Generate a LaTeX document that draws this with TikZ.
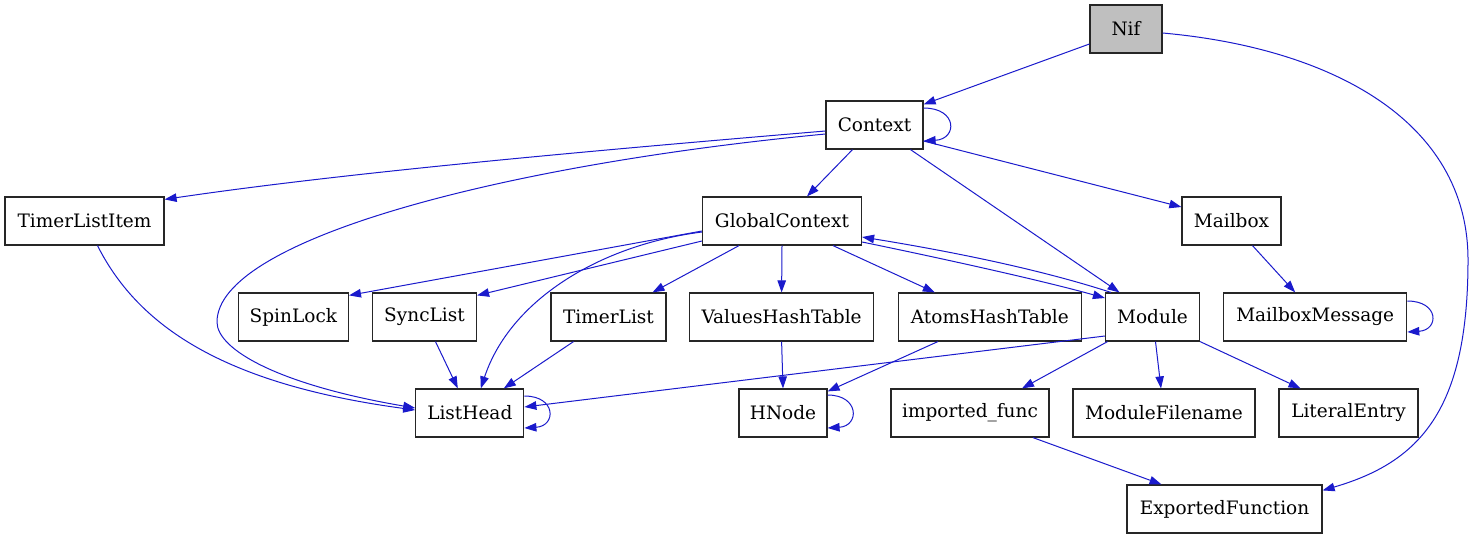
\documentclass[tikz,border=0pt]{standalone}
\usepackage{fontspec}
\setmainfont{DejaVu Serif}
\usetikzlibrary{arrows.meta,calc}
\definecolor{edgeblue}{RGB}{26,26,204}
\definecolor{nifgray}{RGB}{191,191,191}
\begin{document}
\begin{tikzpicture}[x=1pt,y=-1pt,
  box/.style={draw=black!85,line width=1.2pt,fill=white,rectangle,minimum height=48pt,inner sep=0pt,
    font=\fontsize{18.5}{22}\selectfont},
  edge/.style={draw=edgeblue,line width=1pt,-{Triangle[length=12pt,width=8.5pt]}}]
\useasboundingbox (0,0) rectangle (1474,539);
\fill[white] (0,0) rectangle (1474,539);
% nodes
\node[box,fill=nifgray,minimum width=72pt] (Nif) at (1126,29) {Nif};
\node[box,minimum width=97pt] (Context) at (874.5,125) {Context};
\node[box,minimum width=159pt] (TimerListItem) at (84.5,221) {TimerListItem};
\node[box,minimum width=159pt] (GlobalContext) at (782,221) {GlobalContext};
\node[box,minimum width=99pt] (Mailbox) at (1231.5,221) {Mailbox};
\node[box,minimum width=110pt] (SpinLock) at (293.4,317) {SpinLock};
\node[box,minimum width=104pt] (SyncList) at (424.5,317) {SyncList};
\node[box,minimum width=115pt] (TimerList) at (608.5,317) {TimerList};
\node[box,minimum width=184pt] (ValuesHashTable) at (781.6,317) {ValuesHashTable};
\node[box,minimum width=183pt] (AtomsHashTable) at (989.8,317) {AtomsHashTable};
\node[box,minimum width=94pt] (Module) at (1152.5,317) {Module};
\node[box,minimum width=183pt] (MailboxMessage) at (1315.2,317) {MailboxMessage};
\node[box,minimum width=108pt] (ListHead) at (469.8,413) {ListHead};
\node[box,minimum width=88pt] (HNode) at (783,413) {HNode};
\node[box,minimum width=158pt] (imported_func) at (970,413) {imported\_func};
\node[box,minimum width=182pt] (ModuleFilename) at (1164,413) {ModuleFilename};
\node[box,minimum width=139pt] (LiteralEntry) at (1348.5,413) {LiteralEntry};
\node[box,minimum width=195pt] (ExportedFunction) at (1224.5,509) {ExportedFunction};
% edges
\draw[edge] ($(Nif.west)+(0,15)$) -- ($(Context.north east)+(0,4)$);
\draw[edge] ($(Nif.east)+(0,4)$) .. controls (1330,48) and (1468,120) .. (1468,260)
  .. controls (1468,410) and (1420,462) .. ($(ExportedFunction.north east)+(0,6)$);
\draw[edge] ($(Context.east)+(0,-17)$) .. controls +(34,0) and +(34,-2) .. ($(Context.east)+(0,16)$);
\draw[edge] ($(Context.west)+(0,6)$) .. controls (600,150) and (350,172) .. ($(TimerListItem.north east)+(0,3)$);
\draw[edge] ($(Context.west)+(0,9)$) .. controls (500,165) and (217,240) .. (217,322)
  .. controls (217,350) and (280,385) .. ($(ListHead.west)+(0,-5)$);
\draw[edge] ($(TimerListItem.south)+(13,0)$) .. controls (140,330) and (230,385) .. ($(ListHead.west)+(0,-3)$);
\draw[edge] ($(Context.south)+(-22,0)$) -- ($(GlobalContext.north)+(25,0)$);
\draw[edge] ($(Context.south)+(36,0)$) -- ($(Module.north)+(-33,0)$);
\draw[edge] ($(Context.east)+(0,16)$) -- ($(Mailbox.west)+(0,-14)$);
\draw[edge] ($(Mailbox.south)+(21,0)$) -- ($(MailboxMessage.north)+(-20,0)$);
\draw[edge] ($(MailboxMessage.east)+(0,-16)$) .. controls +(32,0) and +(32,-2) .. ($(MailboxMessage.east)+(0,15)$);
\draw[edge] ($(GlobalContext.west)+(0,10)$) -- ($(SpinLock.north east)+(0,3)$);
\draw[edge] ($(GlobalContext.west)+(0,20)$) -- ($(SyncList.north east)+(0,3)$);
\draw[edge] ($(GlobalContext.west)+(0,11)$) .. controls (600,245) and (510,300) .. ($(ListHead.north)+(11,0)$);
\draw[edge] ($(GlobalContext.south)+(-43,0)$) -- ($(TimerList.north)+(44,0)$);
\draw[edge] (GlobalContext.south) -- (ValuesHashTable.north);
\draw[edge] ($(GlobalContext.south)+(51,0)$) -- ($(AtomsHashTable.north)+(-55,0)$);
\draw[edge] ($(Module.north west)+(6,0)$) .. controls (1030,266) and (930,248) .. ($(GlobalContext.east)+(0,16)$);
\draw[edge] ($(GlobalContext.east)+(0,21)$) .. controls (940,258) and (1040,280) .. ($(Module.west)+(0,-19)$);
\draw[edge] ($(Module.west)+(0,19)$) -- ($(ListHead.east)+(0,-6)$);
\draw[edge] ($(ListHead.east)+(0,-17)$) .. controls +(32,0) and +(32,-2) .. ($(ListHead.east)+(0,15)$);
\draw[edge] ($(SyncList.south)+(11,0)$) -- ($(ListHead.north)+(-12,0)$);
\draw[edge] ($(TimerList.south)+(-35,0)$) -- ($(ListHead.north)+(34,0)$);
\draw[edge] (ValuesHashTable.south) -- (HNode.north);
\draw[edge] ($(AtomsHashTable.south)+(-52,0)$) -- ($(HNode.north east)+(0,3)$);
\draw[edge] ($(HNode.east)+(0,-18)$) .. controls +(32,0) and +(32,-2) .. ($(HNode.east)+(0,15)$);
\draw[edge] ($(Module.south)+(-45,0)$) -- ($(imported_func.north)+(52,0)$);
\draw[edge] ($(Module.south)+(3,0)$) -- ($(ModuleFilename.north)+(-3,0)$);
\draw[edge] (Module.south east) -- ($(LiteralEntry.north)+(-48,0)$);
\draw[edge] ($(imported_func.south)+(63,0)$) -- ($(ExportedFunction.north)+(-63,0)$);
\end{tikzpicture}
\end{document}
